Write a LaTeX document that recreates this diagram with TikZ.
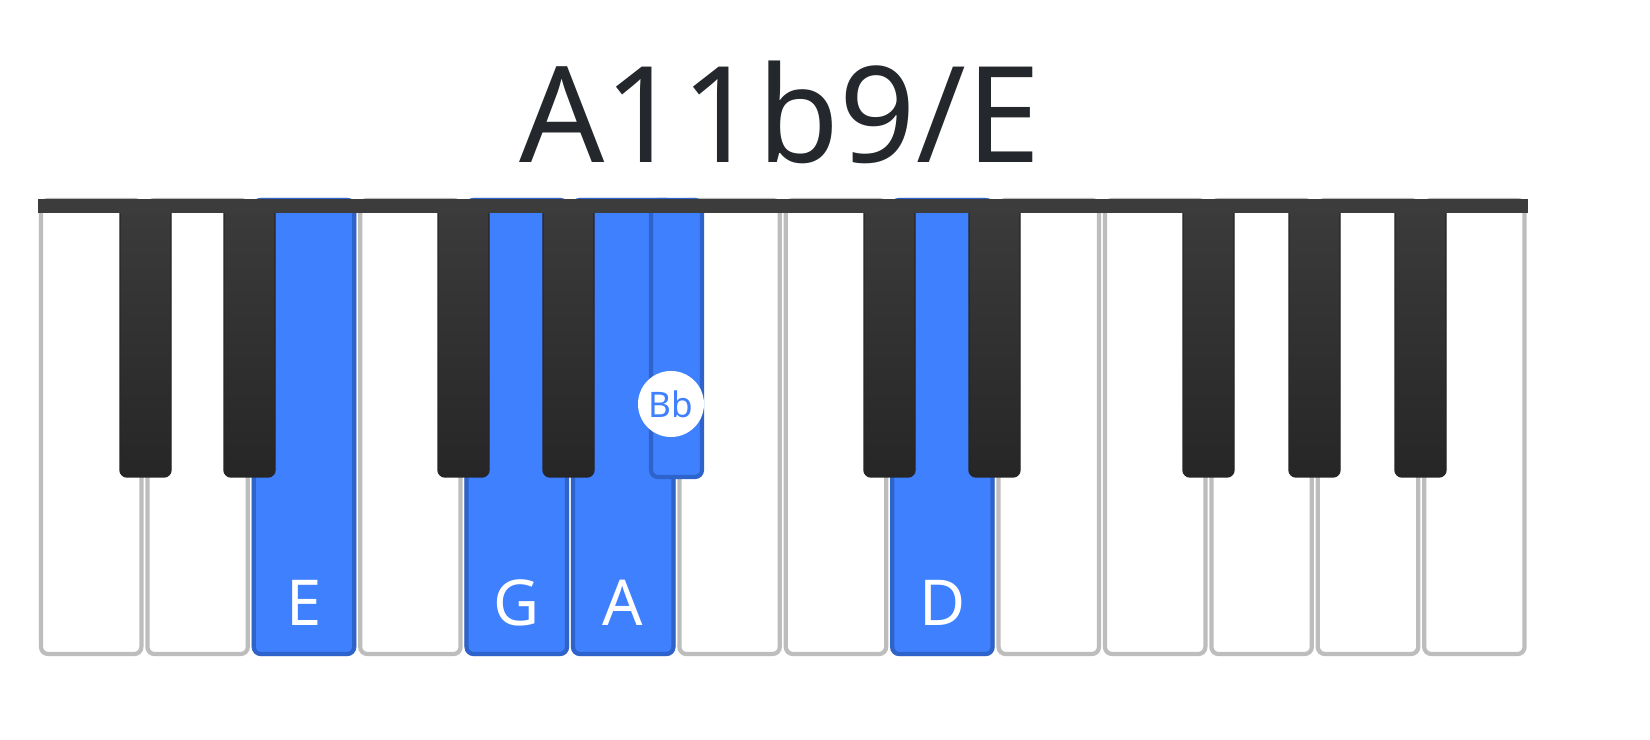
\documentclass[tikz,border=0pt]{standalone}
\usepackage{fontspec}
\setmainfont{Noto Sans}
\definecolor{keyblue}{HTML}{3F80FF}
\definecolor{keyedge}{HTML}{2F63CC}
\definecolor{keygray}{HTML}{BDBDBD}
\definecolor{keyblack}{HTML}{262626}
\definecolor{titlegray}{HTML}{24272B}
\tikzset{
  whitekey/.style={fill=white, draw=keygray, line width=1.2pt, rounded corners=2pt},
  bluewhite/.style={fill=keyblue, draw=keyedge, line width=1.2pt, rounded corners=2pt},
  blackkey/.style={top color=keyblack!90!white, bottom color=keyblack, draw=keyblack, rounded corners=2pt},
  blueblack/.style={fill=keyblue, draw=keyedge, line width=1.2pt, rounded corners=2pt},
  notelabel/.style={text=white, font=\fontsize{18}{18}\selectfont}
}
\begin{document}
\begin{tikzpicture}[x=0.01cm,y=-0.01cm]
  \fill[white] (0,0) rectangle (1650,740);
  % title
  \node[text=titlegray, font=\fontsize{38}{38}\selectfont] (title) at (780,112) {A11b9/E};
  % white keys
  \foreach \i in {0,...,13}
    \draw[whitekey] ({38+\i*106.4+3},200) rectangle ({38+(\i+1)*106.4-3},654);
  \foreach \i/\n in {2/E,4/G,5/A,8/D} {
    \draw[bluewhite] ({38+\i*106.4+3},200) rectangle ({38+(\i+1)*106.4-3},654);
    \node[notelabel] (w\n) at ({38+(\i+0.5)*106.4},603) {\n};
  }
  % black keys
  \foreach \x in {120,224,438,543,864,969,1183,1289,1395}
    \draw[blackkey] (\x,200) rectangle (\x+51,477);
  \draw[blueblack] (651,200) rectangle (702,477);
  \node[circle, fill=white, minimum size=0.66cm, inner sep=0pt, text=keyblue,
        font=\fontsize{10}{10}\selectfont] (bBb) at (671,404) {Bb};
  % top bar
  \fill[keyblack!90!white] (38,199) rectangle (1528,213);
  \pgfresetboundingbox
  \path (0,0) rectangle (1650,740);
\end{tikzpicture}
\end{document}
